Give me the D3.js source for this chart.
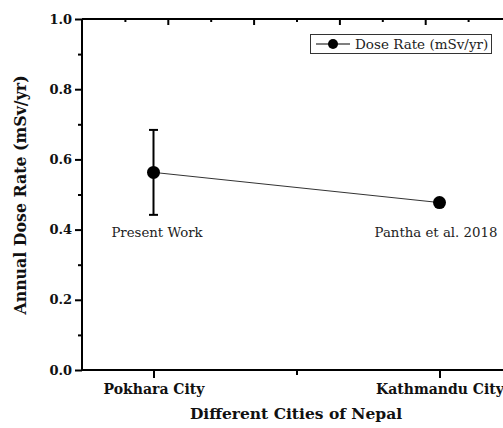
<!DOCTYPE html>
<html>
<head>
<meta charset="utf-8">
<script src="https://cdn.jsdelivr.net/npm/d3@7"></script>
<style>
  html, body { margin: 0; padding: 0; background: #fff; }
  svg { display: block; }
</style>
</head>
<body>
<svg id="chart" width="503" height="428"></svg>
<script>
// ---- data ----
const categories = ["Pokhara City", "Kathmandu City"];
const categoryPos = [1, 2];
const doseRate = [0.563, 0.477];
const errorLow = [0.442, null];
const errorHigh = [0.684, null];
const annotations = ["Present Work", "Pantha et al. 2018"];
const yMajorTicks = [0.0, 0.2, 0.4, 0.6, 0.8, 1.0];
const yMinorTicks = [0.1, 0.3, 0.5, 0.7, 0.9];
const xMinorTicks = [1.5];
const topMajorTicks = [1.05, 1.35, 1.65, 1.95];
const topMinorTicks = [0.9, 1.2, 1.5, 1.8, 2.1];
const legendLabel = "Dose Rate (mSv/yr)";
const yTitle = "Annual Dose Rate (mSv/yr)";
const xTitle = "Different Cities of Nepal";

(function () {
// ---- layout ----
const svg = d3.select("#chart");
const mLeft = 82, mTop = 19, mBottom = 370;
const x = d3.scaleLinear().domain([0.75, 2.25]).range([mLeft, mLeft + 429]);
const y = d3.scaleLinear().domain([0, 1]).range([mBottom, mTop]);
const serif = "'DejaVu Serif', 'Liberation Serif', serif";

// left axis
const gL = svg.append("g").attr("transform", `translate(${mLeft},0)`);
gL.call(d3.axisLeft(y).tickValues(yMajorTicks).tickSize(7).tickPadding(3).tickFormat(d3.format(".1f")));
gL.append("g").call(d3.axisLeft(y).tickValues(yMinorTicks).tickSize(4).tickFormat(""));
// bottom axis
const gB = svg.append("g").attr("transform", `translate(0,${mBottom})`);
gB.call(d3.axisBottom(x).tickValues(categoryPos).tickSize(8).tickPadding(6).tickFormat((d, i) => categories[i]));
gB.append("g").call(d3.axisBottom(x).tickValues(xMinorTicks).tickSize(5).tickFormat(""));
// top axis (ticks inward)
const gT = svg.append("g").attr("transform", `translate(0,${mTop})`);
gT.call(d3.axisBottom(x).tickValues(topMajorTicks).tickSize(6).tickFormat(""));
gT.append("g").call(d3.axisBottom(x).tickValues(topMinorTicks).tickSize(3).tickFormat(""));

svg.selectAll(".domain").remove();
gT.append("line").attr("x1", mLeft).attr("x2", 503).attr("stroke", "#000").attr("stroke-width", 2);
// axis lines
svg.append("line").attr("x1", mLeft).attr("x2", mLeft).attr("y1", mTop).attr("y2", mBottom)
  .attr("stroke", "#000").attr("stroke-width", 2);
svg.append("line").attr("x1", mLeft - 1).attr("x2", 503).attr("y1", mBottom).attr("y2", mBottom)
  .attr("stroke", "#000").attr("stroke-width", 2);

svg.selectAll(".tick line").attr("stroke", "#000").attr("stroke-width", 2);
gL.selectAll(".tick text").attr("font-family", serif).attr("font-weight", "bold")
  .attr("font-size", 13).attr("fill", "#111");
gB.selectAll(".tick text").attr("font-family", serif).attr("font-weight", "bold")
  .attr("font-size", 14).attr("fill", "#111");

// line
const pts = categoryPos.map((c, i) => [x(c), y(doseRate[i])]);
svg.append("path").attr("d", d3.line()(pts)).attr("fill", "none")
  .attr("stroke", "#333").attr("stroke-width", 1);

// error bars
categoryPos.forEach((c, i) => {
  if (errorLow[i] == null) return;
  const cx = x(c);
  svg.append("line").attr("x1", cx).attr("x2", cx).attr("y1", y(errorLow[i])).attr("y2", y(errorHigh[i]))
    .attr("stroke", "#000").attr("stroke-width", 2);
  [errorLow[i], errorHigh[i]].forEach(v => {
    svg.append("line").attr("x1", cx - 4.5).attr("x2", cx + 4.5).attr("y1", y(v)).attr("y2", y(v))
      .attr("stroke", "#000").attr("stroke-width", 2);
  });
});

// markers
svg.selectAll("circle.pt").data(pts).join("circle").attr("class", "pt")
  .attr("cx", d => d[0]).attr("cy", d => d[1]).attr("r", 6.5).attr("fill", "#000");

// annotations
const annX = [157, 436];
annotations.forEach((t, i) => {
  svg.append("text").attr("x", annX[i]).attr("y", 237).attr("text-anchor", "middle")
    .attr("font-family", serif).attr("font-size", 13.3).attr("fill", "#222").text(t);
});

// legend
const lg = svg.append("g");
lg.append("rect").attr("x", 310.5).attr("y", 34.5).attr("width", 181).attr("height", 19)
  .attr("fill", "#fff").attr("stroke", "#333").attr("stroke-width", 1);
lg.append("line").attr("x1", 316).attr("x2", 350).attr("y1", 44).attr("y2", 44)
  .attr("stroke", "#000").attr("stroke-width", 1.2);
lg.append("circle").attr("cx", 333).attr("cy", 44).attr("r", 5).attr("fill", "#000");
lg.append("text").attr("x", 355).attr("y", 48.5).attr("font-family", serif).attr("font-size", 13.5)
  .attr("fill", "#222").text(legendLabel);

// titles
svg.append("text").attr("transform", `translate(26,195) rotate(-90)`).attr("text-anchor", "middle")
  .attr("font-family", serif).attr("font-weight", "bold").attr("font-size", 15.8).attr("fill", "#111").text(yTitle);
svg.append("text").attr("x", 296).attr("y", 419).attr("text-anchor", "middle")
  .attr("font-family", serif).attr("font-weight", "bold").attr("font-size", 15.5).attr("fill", "#111").text(xTitle);
})();
</script>
</body>
</html>
